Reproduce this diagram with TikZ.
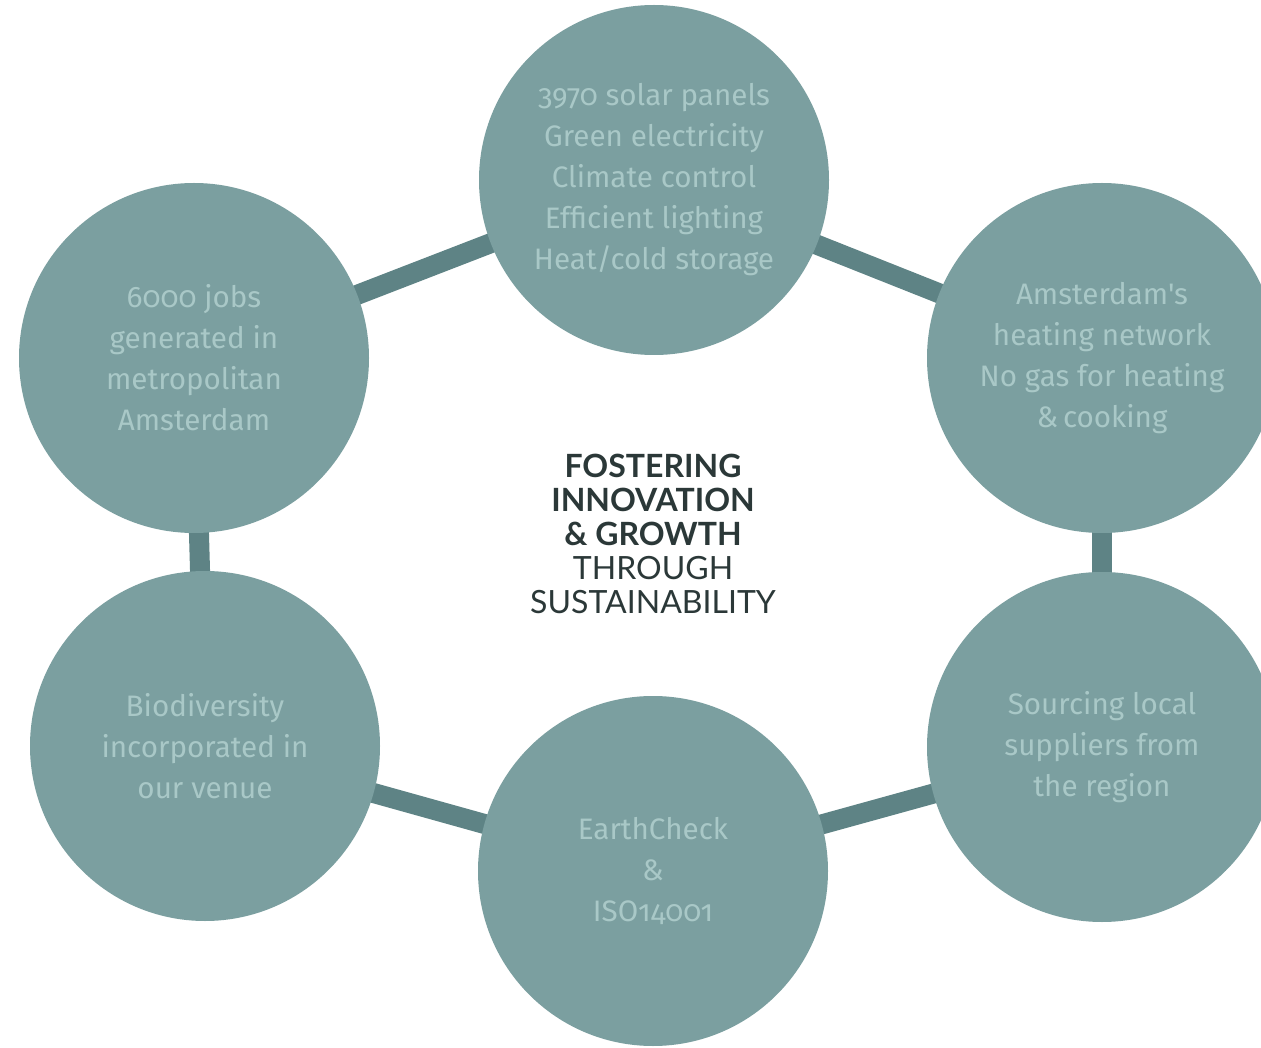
\documentclass[tikz,border=0pt]{standalone}
\usepackage{fontspec}
\usetikzlibrary{backgrounds}
\setmainfont{Lato}
\newfontfamily\circfont[Numbers=OldStyle]{Fira Sans}
\newfontfamily\titlefont{Lato}
\definecolor{circfill}{HTML}{7B9FA0}
\definecolor{linkcol}{HTML}{5E8385}
\definecolor{circtext}{HTML}{A9C8C7}
\definecolor{titlecol}{HTML}{2B3838}
\begin{document}
\begin{tikzpicture}[x=0.75pt,y=-0.75pt,
  bubble/.style={circle,fill=circfill,minimum size=262.5pt,inner sep=0pt,
    text=circtext,align=center,font=\circfont\fontsize{22.2}{30.75}\selectfont},
  link/.style={draw=linkcol,line width=15pt}]
\clip (0,0) rectangle (1261,1048);
% nodes
\node[bubble] (top) at (654,180) {3970 solar panels\\Green electricity\\Climate control\\Efficient lighting\\Heat/cold storage};
\node[bubble] (tl) at (194,358) {6000 jobs\\generated in\\metropolitan\\Amsterdam};
\node[bubble] (tr) at (1102,358) {Amsterdam's\\heating network\\No gas for heating\\\&\,cooking};
\node[bubble] (bl) at (205,746) {Biodiversity\\incorporated in\\our venue};
\node[bubble] (br) at (1102,747) {Sourcing local\\suppliers from\\the region};
\node[bubble] (bot) at (653,871) {EarthCheck\\\&\\ISO14001};
\node[align=center,text=titlecol,font=\titlefont\fontsize{24}{25.5}\selectfont] (title) at (653,534)
  {\bfseries FOSTERING\\\bfseries INNOVATION\\\bfseries \& GROWTH\\THROUGH\\SUSTAINABILITY};
% connectors behind circles
\begin{scope}[on background layer]
\fill[white] (0,0) rectangle (1261,1048);
\draw[link] (tl.center) -- (top.center);
\draw[link] (top.center) -- (tr.center);
\draw[link] (tr.center) -- (br.center);
\draw[link] (br.center) -- (bot.center);
\draw[link] (bot.center) -- (bl.center);
\draw[link] (bl.center) -- (tl.center);
\end{scope}
\end{tikzpicture}
\end{document}
